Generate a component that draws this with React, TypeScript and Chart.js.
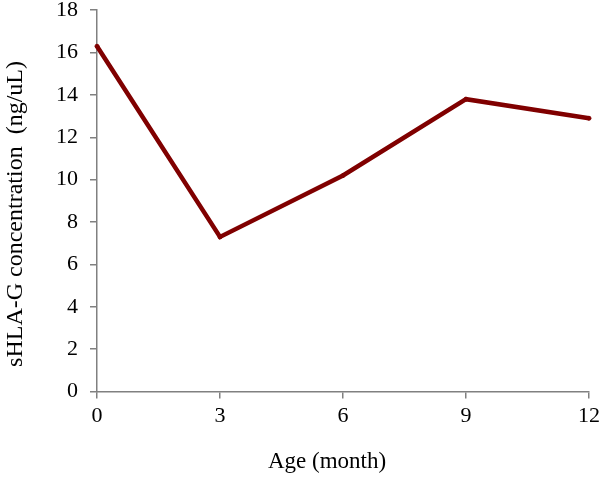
import React, { useEffect, useRef } from "react";
import { Chart, registerables } from "chart.js";

Chart.register(...registerables);

const categories = ["0", "3", "6", "9", "12"];
const concentration = [16.3, 7.3, 10.2, 13.8, 12.9];
const yTitle = "sHLA-G concentration  (ng/uL)";
const xTitle = "Age (month)";

const OFF_X = -2;
const OFF_Y = -15;
const family = "'Liberation Serif', 'Times New Roman', serif";

const titlePlugin = {
  id: "axisTitles",
  afterDraw(chart: any) {
    const ctx = chart.ctx as CanvasRenderingContext2D;
    ctx.save();
    ctx.fillStyle = "#000";
    ctx.textAlign = "center";
    ctx.textBaseline = "middle";
    ctx.font = `23px ${family}`;
    ctx.fillText(xTitle, 327 - OFF_X, 462 - OFF_Y);
    ctx.translate(16 - OFF_X, 214 - OFF_Y);
    ctx.rotate(-Math.PI / 2);
    ctx.font = `24px ${family}`;
    ctx.fillText(yTitle, 0, 0);
    ctx.restore();
  },
};

export default function App() {
  const ref = useRef<HTMLCanvasElement | null>(null);
  useEffect(() => {
    if (!ref.current) return;
    const font = { family, size: 22 };
    const chart = new Chart(ref.current, {
      type: "line",
      data: {
        labels: categories,
        datasets: [
          {
            data: concentration,
            borderColor: "#800000",
            backgroundColor: "#800000",
            borderWidth: 4.5,
            pointRadius: 2,
            pointHoverRadius: 2,
            pointBorderWidth: 1,
            tension: 0,
          },
        ],
      },
      options: {
        animation: false,
        responsive: true,
        maintainAspectRatio: false,
        layout: { padding: { top: 0, right: 0, left: 46, bottom: 44 } },
        plugins: { legend: { display: false }, tooltip: { enabled: false } },
        scales: {
          x: {
            offset: false,
            border: { display: true, color: "#808080", width: 1.5 },
            grid: { display: true, drawOnChartArea: false, drawTicks: true, tickLength: 7, color: "#808080", lineWidth: 1.5 },
            ticks: { color: "#000", font, padding: 4, maxRotation: 0 },
            title: { display: false, text: xTitle },
          },
          y: {
            min: 0,
            max: 18,
            border: { display: true, color: "#808080", width: 1.5 },
            grid: { display: true, drawOnChartArea: false, drawTicks: true, tickLength: 7, color: "#808080", lineWidth: 1.5 },
            ticks: { stepSize: 2, color: "#000", font, padding: 12 },
            title: { display: false, text: yTitle },
          },
        },
      },
      plugins: [titlePlugin],
    });
    return () => chart.destroy();
  }, []);
  return (
    <div style={{ position: "fixed", left: 0, top: 0, width: 600, height: 478, overflow: "hidden", background: "#fff" }}>
      <div style={{ position: "absolute", left: OFF_X, top: OFF_Y, width: 606, height: 492 }}>
        <canvas ref={ref} />
      </div>
    </div>
  );
}
